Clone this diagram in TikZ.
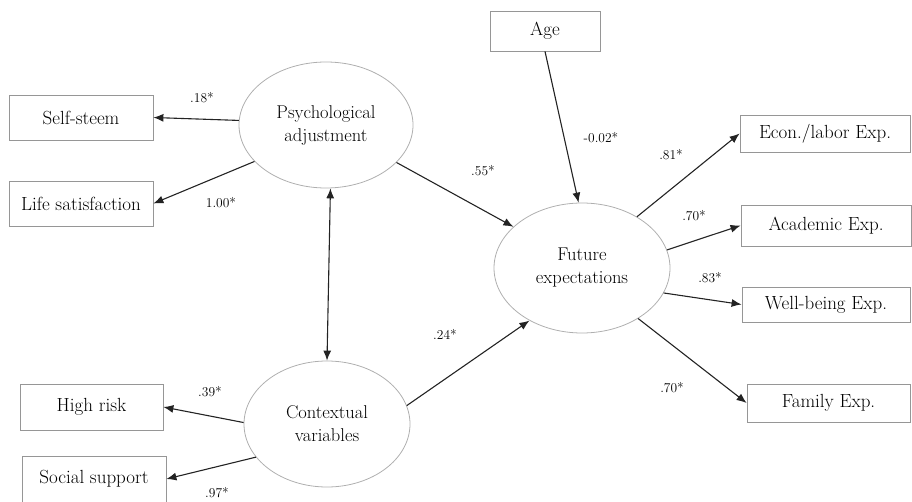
\documentclass[tikz,border=0pt]{standalone}
\usepackage{fontspec}
\usetikzlibrary{shapes.geometric,arrows.meta}
\definecolor{boxgray}{RGB}{150,150,150}
\definecolor{ellgray}{RGB}{175,175,175}
\definecolor{arrcol}{RGB}{35,35,35}
\begin{document}
\begin{tikzpicture}[x=1pt,y=-1pt,
  obs/.style={draw=boxgray,line width=0.8pt,rectangle,inner sep=0pt,font=\fontsize{19}{21}\selectfont},
  lat/.style={draw=ellgray,line width=0.8pt,ellipse,inner sep=0pt,align=center,font=\fontsize{18.5}{23}\selectfont},
  coef/.style={font=\fontsize{13.5}{15}\selectfont,inner sep=0pt},
  pathto/.style={draw=arrcol,line width=1.1pt,-{Latex[length=10pt,width=8pt]}},
  pathboth/.style={draw=arrcol,line width=1.1pt,{Latex[length=10pt,width=8pt]}-{Latex[length=10pt,width=8pt]}}
]
\useasboundingbox (0,0) rectangle (912,502);

% observed variables
\node[obs,minimum width=144pt,minimum height=45pt] (self) at (81,117.5) {Self-steem};
\node[obs,minimum width=144pt,minimum height=45pt] (life) at (81,203.5) {Life satisfaction};
\node[obs,minimum width=143pt,minimum height=46pt] (risk) at (91.5,407) {High risk};
\node[obs,minimum width=144pt,minimum height=46pt] (soc) at (94,479) {Social support};
\node[obs,minimum width=110pt,minimum height=40pt] (age) at (545,31) {Age};
\node[obs,minimum width=170pt,minimum height=37pt] (econ) at (825,133.5) {Econ./labor Exp.};
\node[obs,minimum width=170pt,minimum height=41pt] (acad) at (826,225.5) {Academic Exp.};
\node[obs,minimum width=168pt,minimum height=35pt] (well) at (826,304.5) {Well-being Exp.};
\node[obs,minimum width=163pt,minimum height=38pt] (fam) at (828.5,403) {Family Exp.};

% latent variables
\node[lat,minimum width=174pt,minimum height=126pt] (psy) at (326,125) {Psychological\\adjustment};
\node[lat,minimum width=166pt,minimum height=126pt] (ctx) at (327,424) {Contextual\\variables};
\node[lat,minimum width=176pt,minimum height=130pt] (fut) at (582,268) {Future\\expectations};

% paths
\draw[pathto] (psy.177) -- (self.east);
\draw[pathto] (psy.207) -- (life.east);
\draw[pathto] (psy.332) -- (fut.149);
\draw[pathboth] (psy.274) -- (ctx.north);
\draw[pathto] (ctx.179) -- (risk.east);
\draw[pathto] (ctx.205) -- (soc.east);
\draw[pathto] (ctx.13) -- (fut.225);
\draw[pathto] (age.south) -- (fut.93);
\draw[pathto] (fut.43) -- (econ.west);
\draw[pathto] (fut.12) -- (acad.west);
\draw[pathto] (fut.-17) -- (well.west);
\draw[pathto] (fut.-42) -- (fam.west);

% coefficients
\node[coef] (c1) at (202,98) {.18*};
\node[coef] (c2) at (221,203) {1.00*};
\node[coef] (c3) at (210,392) {.39*};
\node[coef] (c4) at (217,493) {.97*};
\node[coef] (c5) at (483,171) {.55*};
\node[coef] (c6) at (445,334) {.24*};
\node[coef] (c7) at (601,138) {-0.02*};
\node[coef] (c8) at (671,155) {.81*};
\node[coef] (c9) at (694,216) {.70*};
\node[coef] (c10) at (710,278) {.83*};
\node[coef] (c11) at (672,388) {.70*};
\end{tikzpicture}
\end{document}
